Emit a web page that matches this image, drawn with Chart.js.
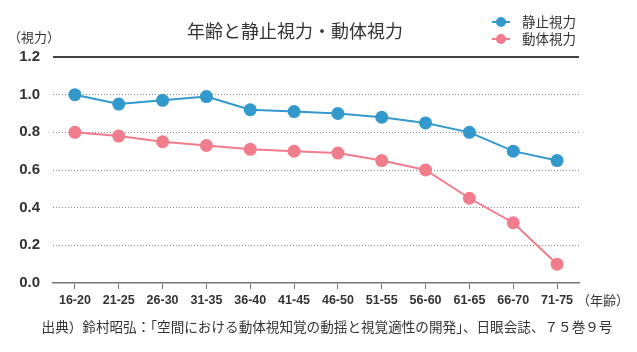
<!DOCTYPE html>
<html>
<head>
<meta charset="utf-8">
<script src="https://cdn.jsdelivr.net/npm/chart.js@4"></script>
<style>
  html, body { margin: 0; padding: 0; background: #fff; }
  #wrap { width: 637px; height: 352px; }
</style>
</head>
<body>
<div id="wrap"><canvas id="myChart" width="637" height="352"></canvas></div>
<script>
const ageGroups = ["16-20", "21-25", "26-30", "31-35", "36-40", "41-45", "46-50", "51-55", "56-60", "61-65", "66-70", "71-75"];
const staticVision = [1.0, 0.95, 0.97, 0.99, 0.92, 0.91, 0.90, 0.88, 0.85, 0.80, 0.70, 0.65];
const dynamicVision = [0.80, 0.78, 0.75, 0.73, 0.71, 0.70, 0.69, 0.65, 0.60, 0.45, 0.32, 0.10];
const yTicks = [0, 0.2, 0.4, 0.6, 0.8, 1.0, 1.2];

const titleText = "年齢と静止視力・動体視力";
const yTitle = "（視力）";
const xTitle = "（年齢）";
const sourceText = "出典）鈴村昭弘：「空間における動体視知覚の動揺と視覚適性の開発」、日眼会誌、７５巻９号";

const blue = "#3399cc";
const pink = "#f07c8c";
const jpFont = "'Noto Sans CJK JP', 'Noto Sans', sans-serif";
const numFont = "'Liberation Sans', Arial, sans-serif";

// extra text, legend and the top solid line
const decorations = {
  id: "decorations",
  afterDraw(chart) {
    const ctx = chart.ctx;
    const area = chart.chartArea;
    const y = chart.scales.y;
    ctx.save();

    // solid line at 1.2
    const yTop = Math.round(y.getPixelForValue(1.2));
    ctx.strokeStyle = "#444";
    ctx.lineWidth = 2;
    ctx.beginPath();
    ctx.moveTo(area.left, yTop);
    ctx.lineTo(area.right, yTop);
    ctx.stroke();

    ctx.fillStyle = "#333";
    ctx.textBaseline = "middle";

    ctx.font = "18px " + jpFont;
    ctx.textAlign = "center";
    ctx.fillText(titleText, 295, 31);

    ctx.font = "13px " + jpFont;
    ctx.textAlign = "left";
    ctx.fillText(yTitle, 8, 37);
    ctx.fillText(xTitle, 577, 300);

    ctx.font = "13.6px " + jpFont;
    ctx.textAlign = "center";
    ctx.fillText(sourceText, 327, 327);

    // legend
    const items = [["静止視力", blue], ["動体視力", pink]];
    items.forEach((it, i) => {
      const ly = 22 + i * 17;
      ctx.strokeStyle = it[1];
      ctx.lineWidth = 2;
      ctx.beginPath();
      ctx.moveTo(492, ly);
      ctx.lineTo(510, ly);
      ctx.stroke();
      ctx.fillStyle = it[1];
      ctx.beginPath();
      ctx.arc(501, ly, 5, 0, Math.PI * 2);
      ctx.fill();
      ctx.fillStyle = "#333";
      ctx.font = "13.5px " + jpFont;
      ctx.textAlign = "left";
      ctx.fillText(it[0], 522, ly);
    });
    ctx.restore();
  }
};

new Chart(document.getElementById("myChart"), {
  type: "line",
  data: {
    labels: ageGroups,
    datasets: [
      {
        label: "静止視力",
        data: staticVision,
        borderColor: blue,
        backgroundColor: blue,
        borderWidth: 2,
        pointRadius: 6.5,
        pointHoverRadius: 6.5,
        pointBorderWidth: 0,
        tension: 0
      },
      {
        label: "動体視力",
        data: dynamicVision,
        borderColor: pink,
        backgroundColor: pink,
        borderWidth: 2,
        pointRadius: 6.5,
        pointHoverRadius: 6.5,
        pointBorderWidth: 0,
        tension: 0
      }
    ]
  },
  options: {
    responsive: false,
    animation: false,
    layout: { padding: { top: 57, right: 58, left: 0, bottom: 0 } },
    plugins: {
      legend: { display: false },
      title: { display: false },
      tooltip: { enabled: false }
    },
    scales: {
      x: {
        offset: true,
        afterFit: (scale) => { scale.height = 69; },
        grid: {
          offset: false,
          drawOnChartArea: false,
          drawTicks: true,
          tickLength: 6,
          color: "#777",
          lineWidth: 1
        },
        border: { display: true, color: "#777", width: 1.5 },
        ticks: {
          color: "#333",
          padding: 4,
          maxRotation: 0,
          autoSkip: false,
          font: { family: numFont, size: 12.5, weight: "bold" }
        }
      },
      y: {
        min: 0,
        max: 1.2,
        afterFit: (scale) => { scale.width = 53; },
        afterBuildTicks: (scale) => { scale.ticks = yTicks.map(v => ({ value: v })); },
        grid: {
          drawTicks: false,
          color: (c) => (c.tick && (c.tick.value === 0 || c.tick.value === 1.2)) ? "rgba(0,0,0,0)" : "#888",
          lineWidth: 1
        },
        border: { display: false, dash: [1, 2] },
        ticks: {
          color: "#333",
          padding: 13,
          font: { family: numFont, size: 15, weight: "bold" },
          callback: (v) => Number(v).toFixed(1)
        }
      }
    }
  },
  plugins: [decorations]
});
</script>
</body>
</html>
